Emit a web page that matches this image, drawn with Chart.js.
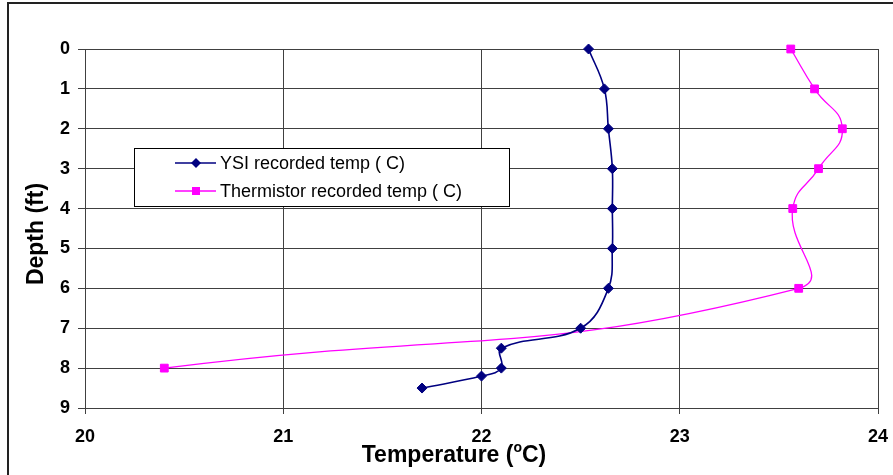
<!DOCTYPE html>
<html>
<head>
<meta charset="utf-8">
<script src="https://cdn.jsdelivr.net/npm/chart.js@4/dist/chart.umd.min.js"></script>
<style>
  html, body { margin: 0; padding: 0; background: #fff; }
  #wrap { width: 893px; height: 475px; }
</style>
</head>
<body>
<div id="wrap"><canvas id="chart" width="893" height="475"></canvas></div>
<script>
// Depth profile: YSI probe vs thermistor string.
const depthYSI = [0, 1, 2, 3, 4, 5, 6, 7, 7.5, 8, 8.2, 8.5];
const tempYSI  = [22.54, 22.62, 22.64, 22.66, 22.66, 22.66, 22.64, 22.50, 22.10, 22.10, 22.00, 21.70];

const depthTherm = [0, 1, 2, 3, 4, 6, 8];
const tempTherm  = [23.56, 23.68, 23.82, 23.70, 23.57, 23.60, 20.40];

const xTicks = [20, 21, 22, 23, 24];
const yTicks = [0, 1, 2, 3, 4, 5, 6, 7, 8, 9];

const seriesNames = ['YSI recorded temp ( C)', 'Thermistor recorded temp ( C)'];

const NAVY = '#000080';
const MAGENTA = '#FF00FF';
const GRID = '#404040';
const FONT = '"Liberation Sans", Arial, sans-serif';

const pts = (xs, ys) => xs.map((x, i) => ({ x: x, y: ys[i] }));

// Frame round the whole picture (only top/left edges fall inside the image).
const framePlugin = {
  id: 'frame',
  beforeDraw(chart) {
    const c = chart.ctx;
    c.save();
    c.fillStyle = '#fff';
    c.fillRect(0, 0, chart.width, chart.height);
    c.strokeStyle = '#222';
    c.lineWidth = 2;
    c.strokeRect(8, 3, chart.width + 20, chart.height + 20);
    c.restore();
  },
};

// Axis titles drawn by hand so the superscript "o" can be raised.
const titlesPlugin = {
  id: 'titles',
  afterDraw(chart) {
    const c = chart.ctx;
    c.save();
    c.fillStyle = '#000';
    c.textBaseline = 'alphabetic';
    c.textAlign = 'left';
    const big = 'bold 23px ' + FONT;
    const small = 'bold 14px ' + FONT;
    const a = 'Temperature (', o = 'o', b = 'C)';
    c.font = big; const wa = c.measureText(a).width; const wb = c.measureText(b).width;
    c.font = small; const wo = c.measureText(o).width;
    let x = 454 - (wa + wo + wb) / 2;
    const base = 462;
    c.font = big; c.fillText(a, x, base); x += wa;
    c.font = small; c.fillText(o, x, base - 10); x += wo;
    c.font = big; c.fillText(b, x, base);

    c.translate(37, 234);
    c.rotate(-Math.PI / 2);
    c.textAlign = 'center';
    c.textBaseline = 'middle';
    c.font = big;
    c.fillText('Depth (ft)', 0, 0);
    c.restore();
  },
};

// Boxed legend sitting inside the plot, as in the spreadsheet chart.
const boxLegendPlugin = {
  id: 'boxLegend',
  afterDatasetsDraw(chart) {
    const c = chart.ctx;
    const L = 134, T = 148, R = 509, B = 206;
    c.save();
    c.fillStyle = '#fff';
    c.fillRect(L, T, R - L, B - T);
    c.strokeStyle = '#000';
    c.lineWidth = 1;
    c.strokeRect(L + 0.5, T + 0.5, R - L, B - T);

    const rows = [
      { y: 163, color: NAVY, shape: 'diamond' },
      { y: 191, color: MAGENTA, shape: 'square' },
    ];
    rows.forEach((r, i) => {
      c.strokeStyle = r.color;
      c.lineWidth = i === 0 ? 1.5 : 1.3;
      c.beginPath(); c.moveTo(175, r.y); c.lineTo(216, r.y); c.stroke();
      c.fillStyle = r.color;
      c.beginPath();
      if (r.shape === 'diamond') {
        c.moveTo(196, r.y - 5); c.lineTo(201, r.y); c.lineTo(196, r.y + 5); c.lineTo(191, r.y);
        c.closePath();
      } else {
        c.rect(192, r.y - 4, 8, 8);
      }
      c.fill();
      c.fillStyle = '#000';
      c.font = '18px ' + FONT;
      c.textBaseline = 'alphabetic';
      c.textAlign = 'left';
      c.fillText(seriesNames[i], 220, r.y + 6);
    });
    c.restore();
  },
};

new Chart(document.getElementById('chart'), {
  type: 'scatter',
  data: {
    datasets: [
      {
        label: seriesNames[0],
        data: pts(tempYSI, depthYSI),
        showLine: true,
        clip: false,
        borderColor: NAVY,
        backgroundColor: NAVY,
        borderWidth: 1.6,
        tension: 0.4,
        pointStyle: 'rectRot',
        pointRadius: 5,
        pointBorderWidth: 1,
        pointBackgroundColor: NAVY,
        pointBorderColor: NAVY,
      },
      {
        label: seriesNames[1],
        data: pts(tempTherm, depthTherm),
        showLine: true,
        clip: false,
        borderColor: MAGENTA,
        backgroundColor: MAGENTA,
        borderWidth: 1.3,
        tension: 0.5,
        pointStyle: 'rect',
        pointRadius: 5.5,
        pointBorderWidth: 1,
        pointBackgroundColor: MAGENTA,
        pointBorderColor: MAGENTA,
      },
    ],
  },
  options: {
    responsive: false,
    devicePixelRatio: 1,
    animation: false,
    layout: { padding: { left: 0, top: 49, right: 15, bottom: 0 } },
    plugins: {
      legend: { display: false },
      tooltip: { enabled: false },
    },
    scales: {
      x: {
        type: 'linear',
        min: xTicks[0],
        max: xTicks[xTicks.length - 1],
        afterBuildTicks: (s) => { s.ticks = xTicks.map((v) => ({ value: v })); },
        ticks: { color: '#000', font: { family: FONT, size: 18, weight: 'bold' }, padding: 12 },
        grid: { color: GRID, lineWidth: 1, tickLength: 6 },
        border: { color: GRID },
        afterFit: (s) => { s.height = 67; s.paddingLeft = 0; s.paddingRight = 0; },
      },
      y: {
        type: 'linear',
        reverse: true,
        min: yTicks[0],
        max: yTicks[yTicks.length - 1],
        afterBuildTicks: (s) => { s.ticks = yTicks.map((v) => ({ value: v })); },
        ticks: { color: '#000', font: { family: FONT, size: 18, weight: 'bold' }, padding: 8 },
        grid: { color: GRID, lineWidth: 1, tickLength: 7 },
        border: { color: GRID },
        afterFit: (s) => { s.width = 85; s.paddingTop = 0; s.paddingBottom = 0; },
      },
    },
  },
  plugins: [framePlugin, boxLegendPlugin, titlesPlugin],
});
</script>
</body>
</html>
